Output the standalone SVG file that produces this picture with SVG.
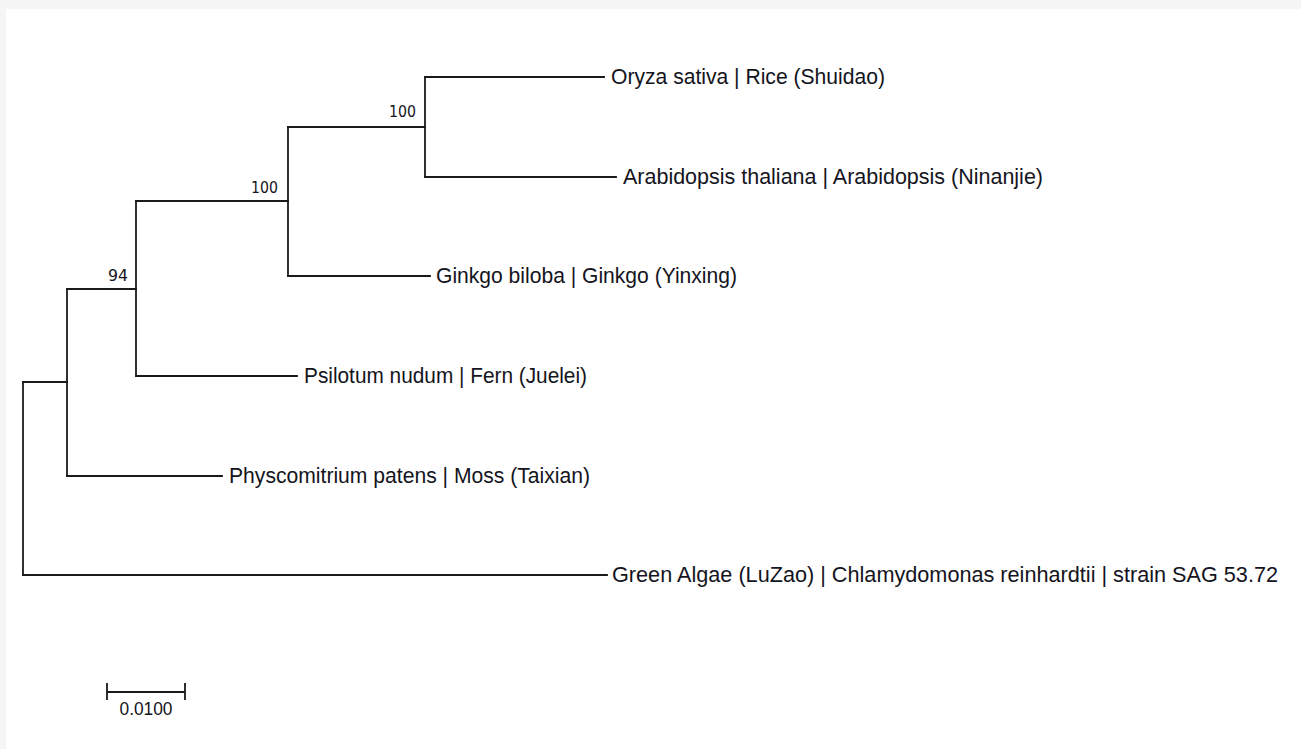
<svg xmlns="http://www.w3.org/2000/svg" width="1301" height="749" viewBox="0 0 1301 749">
  <style>
    .branch { fill: none; stroke: #1a1a1a; stroke-width: 1.8; stroke-linecap: square; }
    .taxon { font-family: "Liberation Sans", Arial, sans-serif; font-size: 22px; fill: #141420; }
    .support { font-family: "DejaVu Sans", Verdana, sans-serif; font-size: 15px; fill: #141420; text-anchor: end; }
    .scale-label { font-family: "Liberation Sans", Arial, sans-serif; font-size: 19px; fill: #141420; text-anchor: middle; }
  </style>

  <!-- canvas -->
  <rect x="0" y="0" width="1301" height="749" fill="#f5f5f5"/>
  <rect x="6" y="9" width="1295" height="740" fill="#ffffff"/>

  <!-- tree branches (rectangular cladogram) -->
  <g id="connectors">
    <!-- root -->
    <path class="branch" d="M23,382 V575"/>
    <path class="branch" d="M23,575 H607"/>
    <path class="branch" d="M23,382 H67"/>
    <!-- land plants -->
    <path class="branch" d="M67,289 V476"/>
    <path class="branch" d="M67,476 H222"/>
    <path class="branch" d="M67,289 H136"/>
    <!-- vascular plants -->
    <path class="branch" d="M136,201 V376"/>
    <path class="branch" d="M136,376 H297"/>
    <path class="branch" d="M136,201 H288"/>
    <!-- seed plants -->
    <path class="branch" d="M288,127 V276"/>
    <path class="branch" d="M288,276 H430"/>
    <path class="branch" d="M288,127 H425"/>
    <!-- angiosperms -->
    <path class="branch" d="M425,77 V177"/>
    <path class="branch" d="M425,77 H604"/>
    <path class="branch" d="M425,177 H616"/>
  </g>

  <!-- leaf labels -->
  <g id="taxon-oryza">
    <text class="taxon" x="611" y="84" textLength="274" lengthAdjust="spacingAndGlyphs">Oryza sativa | Rice (Shuidao)</text>
  </g>
  <g id="taxon-arabidopsis">
    <text class="taxon" x="623" y="184" textLength="420" lengthAdjust="spacingAndGlyphs">Arabidopsis thaliana | Arabidopsis (Ninanjie)</text>
  </g>
  <g id="taxon-ginkgo">
    <text class="taxon" x="436" y="283" textLength="301" lengthAdjust="spacingAndGlyphs">Ginkgo biloba | Ginkgo (Yinxing)</text>
  </g>
  <g id="taxon-psilotum">
    <text class="taxon" x="304" y="383" textLength="283" lengthAdjust="spacingAndGlyphs">Psilotum nudum | Fern (Juelei)</text>
  </g>
  <g id="taxon-physcomitrium">
    <text class="taxon" x="229" y="483" textLength="361" lengthAdjust="spacingAndGlyphs">Physcomitrium patens | Moss (Taixian)</text>
  </g>
  <g id="taxon-chlamydomonas">
    <text class="taxon" x="612" y="582" textLength="666" lengthAdjust="spacingAndGlyphs">Green Algae (LuZao) | Chlamydomonas reinhardtii | strain SAG 53.72</text>
  </g>

  <!-- bootstrap support values -->
  <g id="node-angiosperms">
    <text class="support" x="416" y="117" textLength="27" lengthAdjust="spacingAndGlyphs">100</text>
  </g>
  <g id="node-seed-plants">
    <text class="support" x="278" y="193" textLength="27" lengthAdjust="spacingAndGlyphs">100</text>
  </g>
  <g id="node-vascular">
    <text class="support" x="128" y="281" textLength="20" lengthAdjust="spacingAndGlyphs">94</text>
  </g>

  <!-- scale bar -->
  <g id="scale-bar">
    <path class="branch" d="M107,692 H185 M107,684 V699 M185,684 V699"/>
    <text class="scale-label" x="146" y="715" textLength="53" lengthAdjust="spacingAndGlyphs">0.0100</text>
  </g>
</svg>
